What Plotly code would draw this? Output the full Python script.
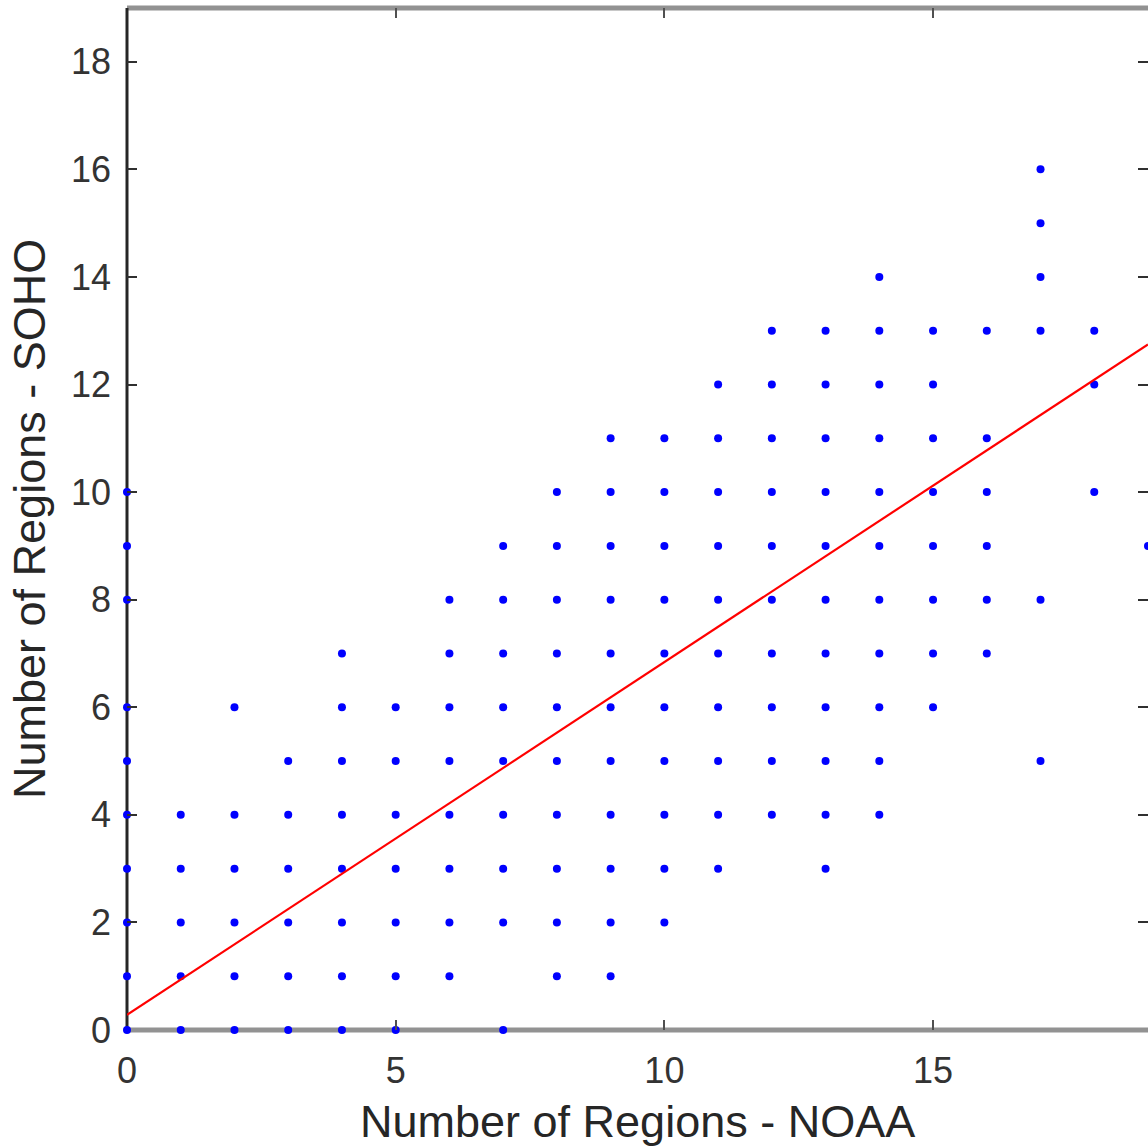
import plotly.graph_objects as go

# Region counts per day: NOAA count (x) paired with SOHO count (y)
noaa = (
    [0] * 10 + [1] * 5 + [2] * 6 + [3] * 6 + [4] * 8 + [5] * 7 + [6] * 8 +
    [7] * 9 + [8] * 10 + [9] * 11 + [10] * 10 + [11] * 10 + [12] * 10 +
    [13] * 11 + [14] * 11 + [15] * 8 + [16] * 6 + [17] * 6 + [18] * 3 + [19]
)
soho = (
    [0, 1, 2, 3, 4, 5, 6, 8, 9, 10] +
    [0, 1, 2, 3, 4] +
    [0, 1, 2, 3, 4, 6] +
    [0, 1, 2, 3, 4, 5] +
    [0, 1, 2, 3, 4, 5, 6, 7] +
    [0, 1, 2, 3, 4, 5, 6] +
    [1, 2, 3, 4, 5, 6, 7, 8] +
    [0, 2, 3, 4, 5, 6, 7, 8, 9] +
    [1, 2, 3, 4, 5, 6, 7, 8, 9, 10] +
    [1, 2, 3, 4, 5, 6, 7, 8, 9, 10, 11] +
    [2, 3, 4, 5, 6, 7, 8, 9, 10, 11] +
    [3, 4, 5, 6, 7, 8, 9, 10, 11, 12] +
    [4, 5, 6, 7, 8, 9, 10, 11, 12, 13] +
    [3, 4, 5, 6, 7, 8, 9, 10, 11, 12, 13] +
    [4, 5, 6, 7, 8, 9, 10, 11, 12, 13, 14] +
    [6, 7, 8, 9, 10, 11, 12, 13] +
    [7, 8, 9, 10, 11, 13] +
    [5, 8, 13, 14, 15, 16] +
    [10, 12, 13] +
    [9]
)

# Least-squares fit line
fit_intercept = 0.28
fit_slope = 0.656
fit_x = [0, 19]
fit_y = [fit_intercept + fit_slope * v for v in fit_x]

x_ticks = [0, 5, 10, 15]
y_ticks = [0, 2, 4, 6, 8, 10, 12, 14, 16, 18]

FONT = "Liberation Sans, Arial, Helvetica, sans-serif"
TEXT = "#262626"
TICKTEXT = "#333333"

fig = go.Figure()
fig.add_trace(go.Scatter(
    x=noaa, y=soho, mode="markers", cliponaxis=False,
    marker=dict(symbol="circle", size=8, color="#0000ff", line=dict(width=0)),
    showlegend=False,
))
fig.add_trace(go.Scatter(
    x=fit_x, y=fit_y, mode="lines",
    line=dict(color="#ff0000", width=2.2),
    showlegend=False,
))

fig.update_layout(
    width=1148, height=1148,
    margin=dict(l=127, r=0, t=8, b=118),
    paper_bgcolor="white", plot_bgcolor="white",
    font=dict(family=FONT, color=TEXT),
    shapes=[
        dict(type="line", xref="paper", yref="paper", x0=0, x1=1, y0=1, y1=1,
             line=dict(color="#929292", width=5), layer="below"),
        dict(type="line", xref="paper", yref="paper", x0=0, x1=1, y0=0, y1=0,
             line=dict(color="#929292", width=5), layer="below"),
        dict(type="line", xref="paper", yref="paper", x0=0, x1=0, y0=0, y1=1,
             line=dict(color="#262626", width=3), layer="below"),
    ],
    annotations=[
        dict(text="Number of Regions - NOAA", xref="paper", yref="paper",
             x=0.5, y=-0.09, xanchor="center", yanchor="middle",
             showarrow=False, font=dict(size=45, color=TEXT, family=FONT)),
        dict(text="Number of Regions - SOHO", xref="paper", yref="paper",
             x=-0.096, y=0.5, xanchor="center", yanchor="middle", textangle=-90,
             showarrow=False, font=dict(size=45, color=TEXT, family=FONT)),
    ],
)
fig.update_xaxes(
    range=[0, 19], tickvals=x_ticks, ticktext=[str(v) for v in x_ticks],
    ticks="inside", ticklen=10, tickwidth=1.5, tickcolor="#505050",
    mirror="ticks", showline=False, showgrid=False, zeroline=False,
    tickfont=dict(size=36, color=TICKTEXT, family=FONT), ticklabelstandoff=16,
)
fig.update_yaxes(
    range=[0, 19], tickvals=y_ticks, ticktext=[str(v) for v in y_ticks],
    ticks="inside", ticklen=10, tickwidth=1.5, tickcolor="#303030",
    mirror="ticks", showline=False, showgrid=False, zeroline=False,
    tickfont=dict(size=36, color=TICKTEXT, family=FONT), ticklabelstandoff=15,
)

fig.write_html("out.html")
